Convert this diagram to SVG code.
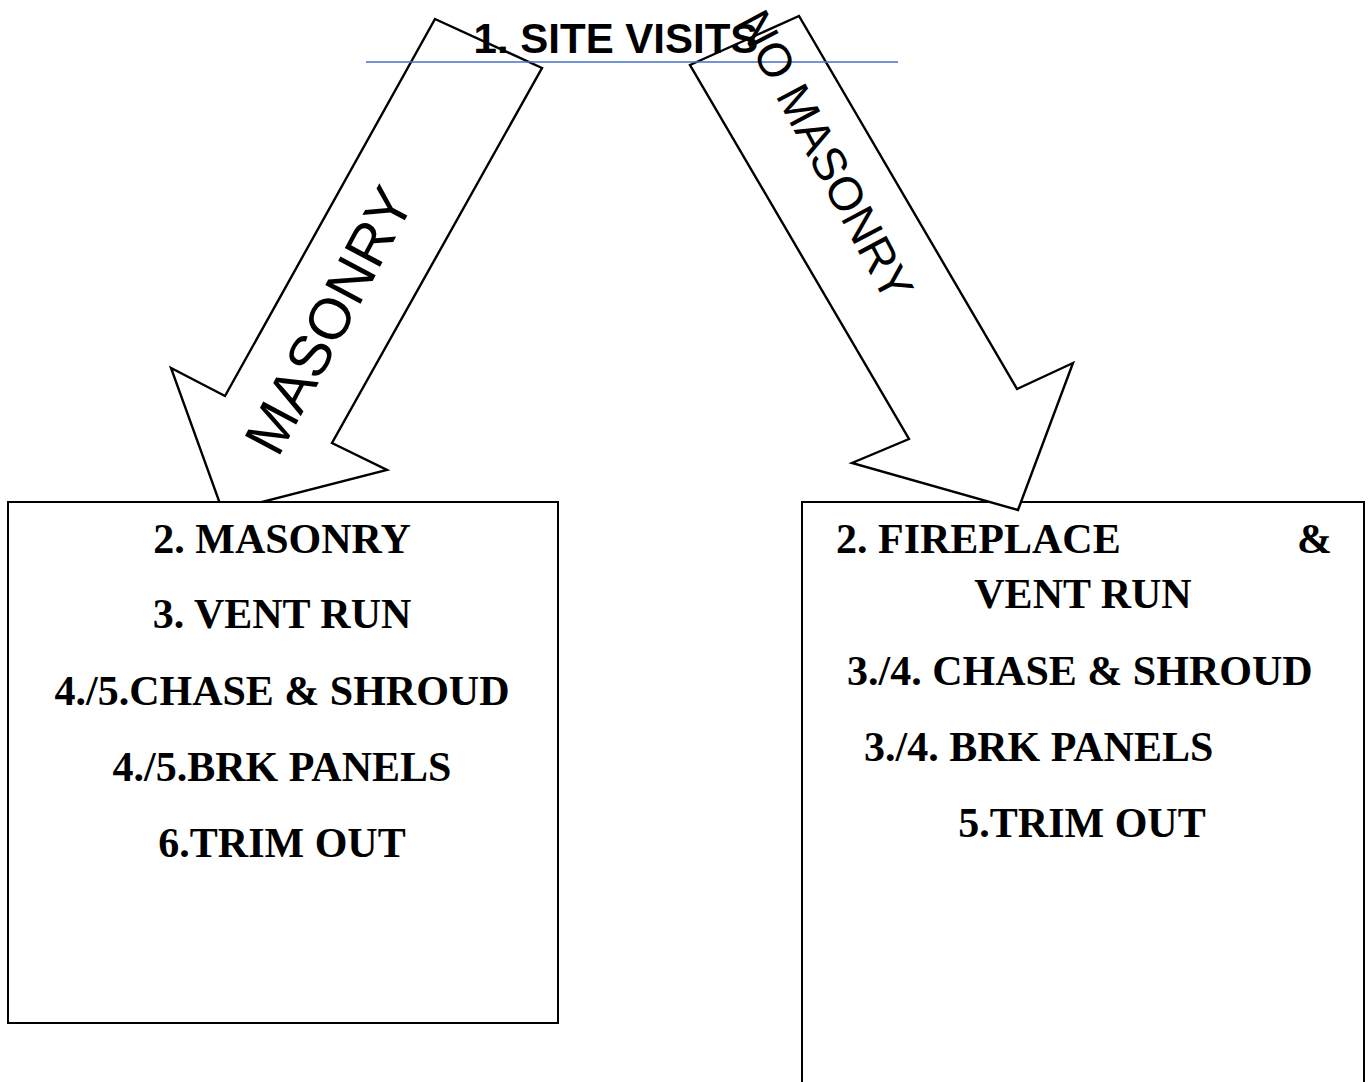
<svg xmlns="http://www.w3.org/2000/svg" width="1371" height="1082" viewBox="0 0 1371 1082">
<style>
.arrow{fill:#fff;stroke:#000;stroke-width:2.4;stroke-linejoin:miter}
.box{fill:#fff;stroke:#000;stroke-width:2}
.alabel{font-family:"Liberation Sans",Arial,sans-serif;fill:#000;text-anchor:middle}
.item{font-family:"Liberation Serif","Times New Roman",serif;font-weight:bold;font-size:42px;fill:#000}
.title{font-family:"Liberation Sans",Arial,sans-serif;font-weight:bold;font-size:42px;fill:#000;text-anchor:middle}
</style>
<rect width="1371" height="1082" fill="#fff"/>
<g id="connectors">
  <g id="arrow-masonry">
    <polygon class="arrow" points="435,19 542,68 332,443 387,470 223,512 171,368 225,396"/>
    <text class="alabel" font-size="58" transform="translate(328,320) rotate(-62)" x="0" y="21">MASONRY</text>
  </g>
</g>
<g id="node-masonry">
  <rect class="box" x="8" y="502" width="550" height="521"/>
  <text class="item" x="282" y="553" text-anchor="middle">2. MASONRY</text>
  <text class="item" x="282" y="628" text-anchor="middle">3. VENT RUN</text>
  <text class="item" x="282" y="705" text-anchor="middle">4./5.CHASE &amp; SHROUD</text>
  <text class="item" x="282" y="781" text-anchor="middle">4./5.BRK PANELS</text>
  <text class="item" x="282" y="857" text-anchor="middle">6.TRIM OUT</text>
</g>
<g id="node-no-masonry">
  <rect class="box" x="802" y="502" width="562" height="620"/>
  <text class="item" x="836" y="553">2. FIREPLACE</text>
  <text class="item" x="1297" y="553">&amp;</text>
  <text class="item" x="1083" y="608" text-anchor="middle">VENT RUN</text>
  <text class="item" x="847" y="685">3./4. CHASE &amp; SHROUD</text>
  <text class="item" x="864" y="761">3./4. BRK PANELS</text>
  <text class="item" x="1082" y="837" text-anchor="middle">5.TRIM OUT</text>
</g>
<g id="connectors-2">
  <g id="arrow-no-masonry">
    <polygon class="arrow" points="690,65 799,16 1017,389 1073,363 1018,510 852,463 909,439"/>
  </g>
</g>
<g id="title">
  <text class="title" x="616" y="53">1. SITE VISITS</text>
  <line x1="366" y1="62" x2="898" y2="62" stroke="#4472C4" stroke-width="1.6"/>
</g>
<g id="label-no-masonry">
  <text class="alabel" font-size="47" transform="translate(826,155) rotate(62)" x="0" y="17">NO MASONRY</text>
</g>
</svg>
